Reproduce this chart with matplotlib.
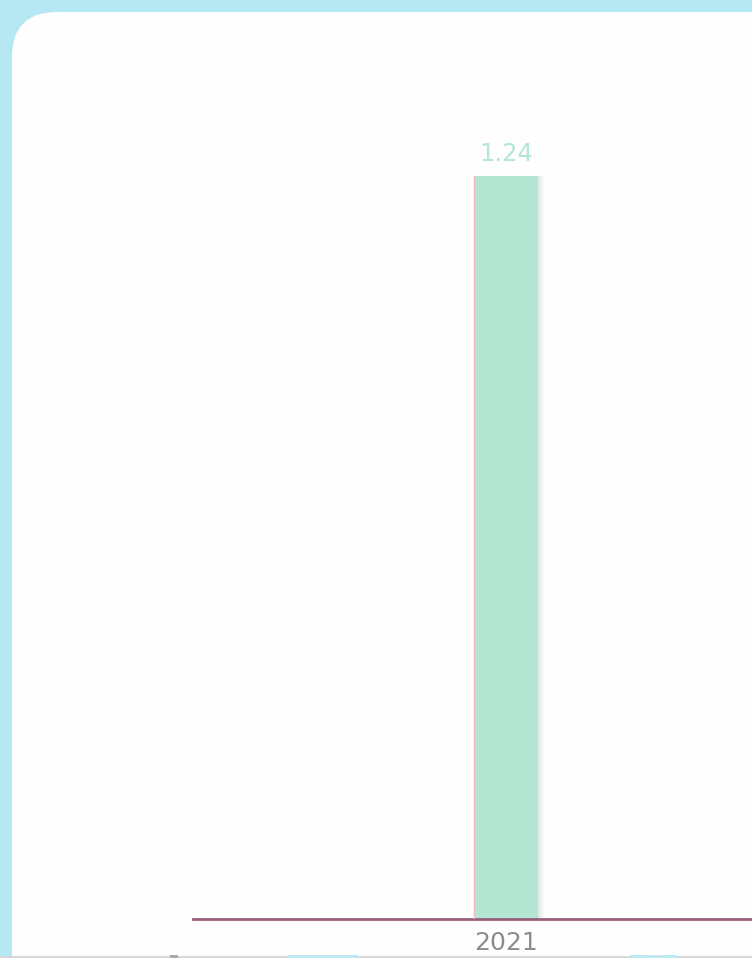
import matplotlib
matplotlib.use("Agg")
import matplotlib.pyplot as plt
from matplotlib.patches import FancyBboxPatch, Rectangle

categories = ["2021"]
values = [1.24]
value_labels = ["1.24"]

W, H = 752, 958
fig = plt.figure(figsize=(W / 100, H / 100), dpi=100)
fig.patch.set_facecolor("#b6e8f3")

# rounded white panel (pixel coords)
panel = FancyBboxPatch((12, -80), 900, H - 12 + 80, boxstyle="round,pad=0,rounding_size=45",
                       transform=None, facecolor="#fefefe", edgecolor="none", zorder=-10)
fig.patches.append(panel)

# bottom faint line and cut-off legend items
fig.patches.append(Rectangle((0, 0), W, 2, transform=None, facecolor="#d8d8d8", edgecolor="none", zorder=-5))
fig.patches.append(Rectangle((170, 0), 8, 3, transform=None, facecolor="#a8a8b0", edgecolor="none", zorder=-4))
fig.patches.append(Rectangle((287, 0), 71, 3, transform=None, facecolor="#bde9f2", edgecolor="none", zorder=-4))
fig.patches.append(Rectangle((630, 0), 25, 3, transform=None, facecolor="#bde9f2", edgecolor="none", zorder=-4))
fig.patches.append(Rectangle((657, 0), 20, 3, transform=None, facecolor="#bde9f2", edgecolor="none", zorder=-4))

ax_left, ax_bottom = 193, H - 919
ax_top = 80
ax = fig.add_axes([ax_left / W, ax_bottom / H, (W - ax_left) / W, (919 - ax_top) / H])
ax.set_zorder(5)
ax.set_facecolor("none")

px_per_unit = 128.0
bar_center_px = 506
ax.set_xlim(-(bar_center_px - ax_left) / px_per_unit, (W - bar_center_px) / px_per_unit)
ax.set_ylim(0, values[0] * (919 - ax_top) / 743)

x = list(range(len(categories)))
# soft blurred-looking shadow
for off, a in [(0.045, 0.25), (0.03, 0.35), (0.015, 0.5)]:
    ax.bar([xi + off for xi in x], values, width=0.5, color="#dfe3e6", alpha=a, zorder=1, edgecolor="none")
ax.bar(x, values, width=0.5, color="#b5e6d4", edgecolor="none", zorder=2)
# faint pink left edge
for xi, v in zip(x, values):
    ax.plot([xi - 0.25, xi - 0.25], [0, v], color="#f2b8c0", lw=1, zorder=3)

for xi, v, lab in zip(x, values, value_labels):
    ax.annotate(lab, (xi, v), xytext=(0, 7), textcoords="offset points", ha="center", va="bottom",
                fontsize=17.5, color="#b2e8d4", family="DejaVu Sans")

for s in ["top", "right", "left"]:
    ax.spines[s].set_visible(False)
ax.spines["bottom"].set_color("#985d78")
ax.spines["bottom"].set_linewidth(2)
ax.set_yticks([])
ax.set_xticks(x)
ax.set_xticklabels(categories, fontsize=18, color="#8c8c8c")
ax.tick_params(axis="x", length=0, pad=9)

fig.savefig("out.png", dpi=100, facecolor=fig.get_facecolor())
